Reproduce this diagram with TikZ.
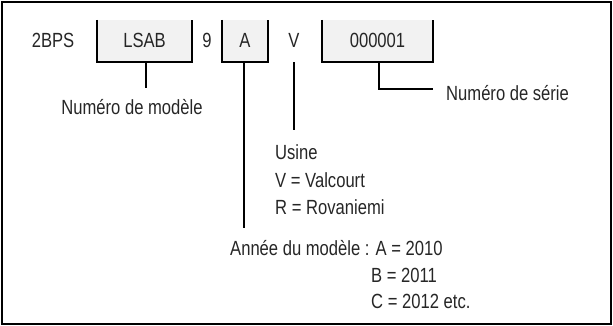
\documentclass[tikz,border=0pt]{standalone}
\usepackage{fontspec}
\setmainfont[FakeStretch=0.81]{Liberation Sans}
\begin{document}
\begin{tikzpicture}[x=1pt,y=-1pt,
  lbl/.style={inner sep=0pt, text=black!85, font=\fontsize{20.5}{24}\selectfont},
  codebox/.style={fill=gray!10, inner sep=0pt, minimum height=42pt},
  edge/.style={line width=1.8pt},
  frame/.style={line width=1.6pt}]
\useasboundingbox (0,0) rectangle (613,326);
\draw[frame] (1.8,1.8) rectangle (611.2,324.2);
% boxes
\node[codebox, minimum width=95pt] (lsab) at (144.5,41) {};
\node[codebox, minimum width=46pt] (abox) at (245,41) {};
\node[codebox, minimum width=111pt] (sbox) at (377.5,41) {};
\foreach \b in {lsab,abox,sbox}
  \draw[edge] (\b.north west) -- (\b.south west) -- (\b.south east) -- (\b.north east);
% code texts
\node[lbl] (t2bps) at (53,40) {2BPS};
\node[lbl] (tlsab) at (144.5,40) {LSAB};
\node[lbl] (t9) at (207,40) {9};
\node[lbl] (ta) at (245,40) {A};
\node[lbl] (tv) at (294,40) {V};
\node[lbl] (tser) at (377.5,40) {000001};
% labels
\node[lbl, anchor=base] (modele) at (132,115) {Numéro de modèle};
\node[lbl, anchor=base west] (serie) at (446,101) {Numéro de série};
\node[lbl, anchor=base west] (usine) at (275,160) {Usine};
\node[lbl, anchor=base west] (valc) at (275,187) {V = Valcourt};
\node[lbl, anchor=base west] (rova) at (275,214) {R = Rovaniemi};
\node[lbl, anchor=base west] (annee) at (230,255) {Année du modèle : A = 2010};
\node[lbl, anchor=base west] (y11) at (371,282) {B = 2011};
\node[lbl, anchor=base west] (y12) at (371,308) {C = 2012 etc.};
% connectors
\coordinate (lsabend) at (146,88);
\coordinate (aend) at (244,228);
\coordinate (vend) at (294,130);
\coordinate (sbend) at (379,89);
\coordinate (sbtip) at (433,89);
\draw[edge] (lsab.south -| lsabend) -- (lsabend);
\draw[edge] (abox.south -| aend) -- (aend);
\draw[edge] (tv.south |- abox.south) -- (vend);
\draw[edge] (sbox.south -| sbend) -- (sbend) -- (sbtip);
\end{tikzpicture}
\end{document}
